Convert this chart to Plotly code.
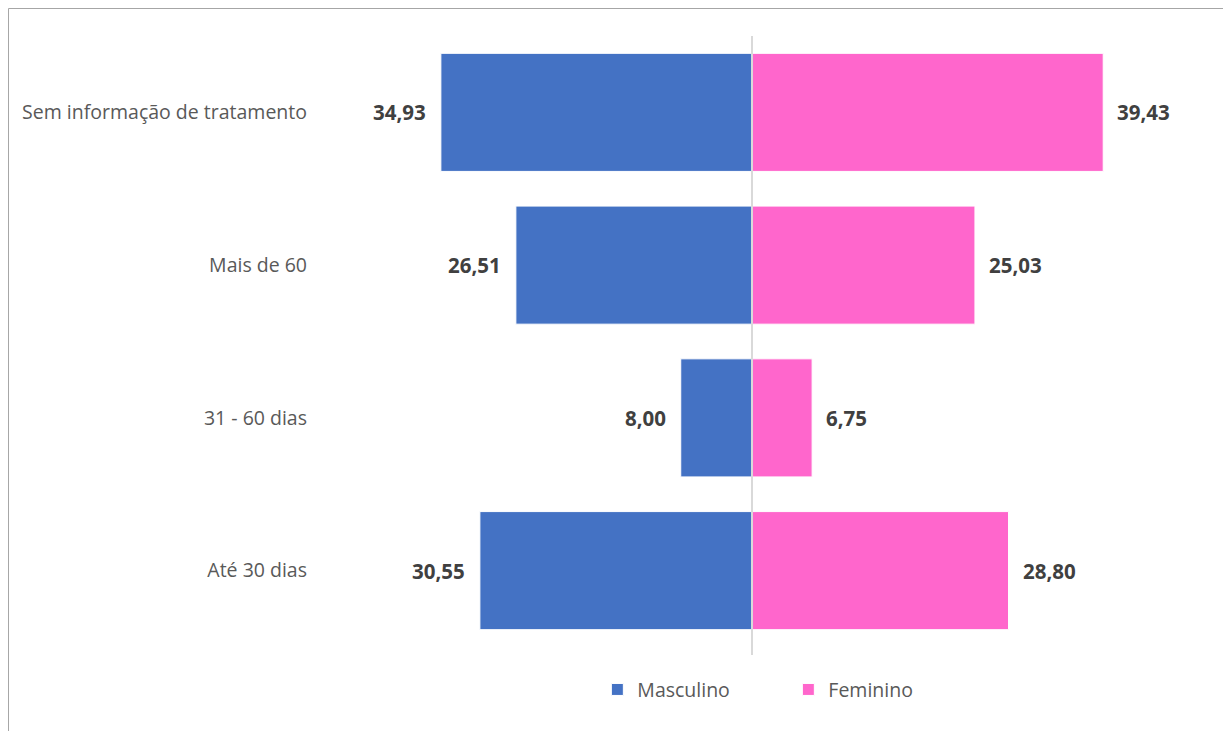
import plotly.graph_objects as go

categorias = ["Até 30 dias", "31 - 60 dias", "Mais de 60", "Sem informação de tratamento"]
masculino = [30.55, 8.00, 26.51, 34.93]
feminino = [28.80, 6.75, 25.03, 39.43]

azul = "#4472C4"
rosa = "#FF66CC"


def fmt(v):
    return f"{v:.2f}".replace(".", ",")


fig = go.Figure()
fig.add_trace(go.Bar(
    y=categorias, x=[-v for v in masculino], base=0, orientation="h",
    name="Masculino", marker=dict(color=azul, line=dict(color="white", width=1)),
    hoverinfo="skip",
))
fig.add_trace(go.Bar(
    y=categorias, x=feminino, base=0, orientation="h",
    name="Feminino", marker=dict(color=rosa, line=dict(color="white", width=1)),
    hoverinfo="skip",
))

# value labels outside the bar ends
for cat, m, f in zip(categorias, masculino, feminino):
    fig.add_annotation(x=-m, y=cat, text=f"<b>{fmt(m)}</b>", showarrow=False,
                       xanchor="right", xshift=-13, font=dict(size=20.5, color="#404040"))
    fig.add_annotation(x=f, y=cat, text=f"<b>{fmt(f)}</b>", showarrow=False,
                       xanchor="left", xshift=12, font=dict(size=20.5, color="#404040"))

# center line
fig.add_shape(type="line", xref="x", yref="paper", x0=0, x1=0, y0=-0.013, y1=1,
              line=dict(color="#D9D9D9", width=2), layer="above")

# outer frame (top, left, right)
frame = dict(color="#A6A6A6", width=1)
fig.add_shape(type="line", xref="paper", yref="paper", x0=-0.3605, x1=1.0626, y0=1.045, y1=1.045, line=frame)
fig.add_shape(type="line", xref="paper", yref="paper", x0=-0.3605, x1=-0.3605, y0=1.045, y1=-0.2, line=frame)
fig.add_shape(type="line", xref="paper", yref="paper", x0=1.0626, x1=1.0626, y0=1.045, y1=-0.2, line=frame)

fig.update_layout(
    width=1231, height=731,
    margin=dict(l=312, r=55, t=28, b=92),
    barmode="overlay", bargap=0.227,
    plot_bgcolor="white", paper_bgcolor="white",
    font=dict(family="Open Sans, Noto Sans, sans-serif", color="#595959", size=19.5),
    xaxis=dict(range=[-48.5, 48.5], showgrid=False, zeroline=False,
               showticklabels=False, ticks=""),
    yaxis=dict(categoryorder="array", categoryarray=categorias, range=[-0.5, 3.5],
               showgrid=False, zeroline=False, ticks="", ticklabelstandoff=12,
               tickfont=dict(size=19.5, color="#595959")),
    legend=dict(orientation="h", x=0.321, xanchor="left", y=-0.07, yanchor="middle",
                font=dict(size=19.5, color="#595959"), entrywidth=146, entrywidthmode="pixels",
                traceorder="normal"),
    showlegend=True,
)

fig.write_html("out.html")
